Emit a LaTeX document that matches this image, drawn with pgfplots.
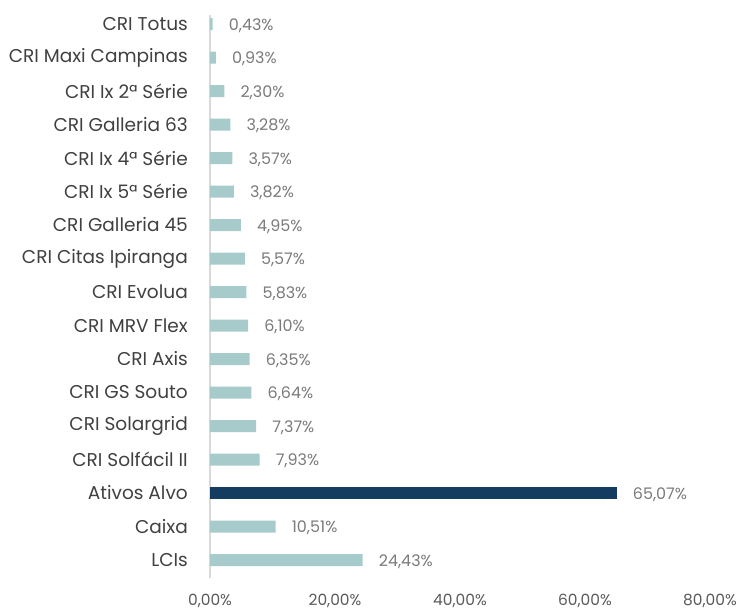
\documentclass[border=0pt]{standalone}
\usepackage{pgfplots}
\pgfplotsset{compat=1.18}
\usepackage{fontspec}
\setmainfont{Poppins}
\definecolor{teal1}{HTML}{A7CBCB}
\definecolor{navy1}{HTML}{143C61}
\definecolor{cattxt}{HTML}{404040}
\definecolor{valtxt}{HTML}{7A7A7A}
\definecolor{ticktxt}{HTML}{595959}
\definecolor{axline}{HTML}{D9D9D9}
\begin{document}
\begin{tikzpicture}
\begin{axis}[
  scale only axis,
  width=500bp, height=563bp,
  xmin=0, xmax=80,
  ymin=-0.537, ymax=16.27,
  xbar, bar width=12bp,
  axis x line=none,
  axis y line*=left,
  y axis line style={axline, line width=1.2pt},
  hide x axis,
  ytick={0,...,16},
  yticklabels={LCIs,Caixa,Ativos Alvo,CRI Solfácil II,CRI Solargrid,CRI GS Souto,CRI Axis,CRI MRV Flex,CRI Evolua,CRI Citas Ipiranga,CRI Galleria 45,CRI Ix 5ª Série,CRI Ix 4ª Série,CRI Galleria 63,CRI Ix 2ª Série,CRI Maxi Campinas,CRI Totus},
  major tick length=0pt,
  yticklabel style={font=\fontsize{18.6}{20}\selectfont, text=cattxt, inner sep=0pt, anchor=east, xshift=-22bp},
  /pgf/number format/assume math mode=true,
  point meta=x,
  nodes near coords={\pgfmathprintnumber[fixed,zerofill,precision=2,use comma]{\pgfplotspointmeta}\%},
  nodes near coords style={font=\fontsize{16}{18}\selectfont, text=valtxt, anchor=west, inner sep=0pt, xshift=16bp, yshift=-1.5bp},
  clip=false,
]
\addplot[fill=teal1, draw=none, bar shift=0pt] coordinates {
(24.43,0) (10.51,1) (7.93,3) (7.37,4) (6.64,5) (6.35,6) (6.10,7) (5.83,8) (5.57,9) (4.95,10) (3.82,11) (3.57,12) (3.28,13) (2.30,14) (0.93,15) (0.43,16)
};
\addplot[fill=navy1, draw=none, bar shift=0pt] coordinates {(65.07,2)};
\foreach \v/\t in {0/0,20/20,40/40,60/60,80/80} {
  \edef\tmp{\noexpand\node[font=\noexpand\fontsize{15.5}{17}\noexpand\selectfont, text=ticktxt, anchor=center] at (axis cs:\v,-0.537) [yshift=-23bp] {\t,00\noexpand\%};}
  \tmp
}
\end{axis}
\pgfresetboundingbox
\path (current axis.south west) ++(-210bp,-32bp) rectangle ++(741bp,610bp);
\end{tikzpicture}
\end{document}
